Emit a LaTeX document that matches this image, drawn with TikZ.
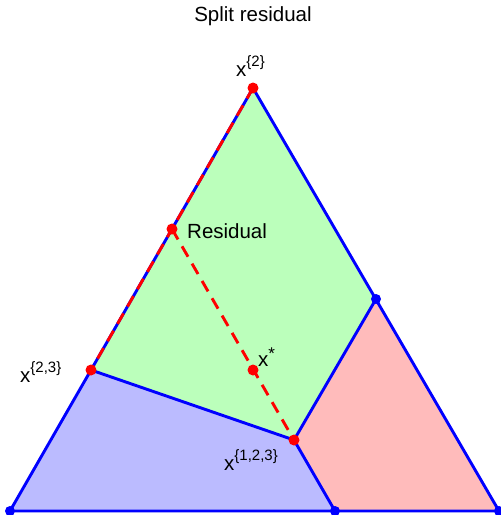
\documentclass[tikz,border=0pt]{standalone}
\usepackage{fontspec}
\setmainfont{Liberation Sans}
\definecolor{rgreen}{RGB}{187,255,187}
\definecolor{rblue}{RGB}{187,187,255}
\definecolor{rred}{RGB}{255,187,187}
\definecolor{lblue}{RGB}{0,0,255}
\definecolor{lred}{RGB}{255,0,0}
\newcommand{\sx}[1]{x\raisebox{0.45em}{\fontsize{15}{17}\selectfont\{#1\}}}
\begin{document}
\begin{tikzpicture}[x=1pt,y=-1pt,
  edge/.style={draw=lblue,line width=2.9pt,line join=round},
  resline/.style={draw=lred,line width=2.9pt,dash pattern=on 12pt off 8pt},
  bdot/.style={circle,fill=lblue,inner sep=0pt,minimum size=10pt},
  rdot/.style={circle,fill=lred,inner sep=0pt,minimum size=11pt},
  lbl/.style={font=\fontsize{20.5}{23}\selectfont,inner sep=0pt}]
\useasboundingbox (0,0) rectangle (501,515);
\coordinate (A) at (10,511);
\coordinate (B) at (499,511);
\coordinate (C) at (253,88);
\coordinate (M23) at (91,370);
\coordinate (M123) at (294,440);
\coordinate (MR) at (376,299);
\coordinate (MB) at (335,511);
\coordinate (Res) at (172,229);
\coordinate (Xs) at (253,370);
% regions
\fill[rgreen] (C) -- (MR) -- (M123) -- (M23) -- cycle;
\fill[rblue] (A) -- (M23) -- (M123) -- (MB) -- cycle;
\fill[rred] (M123) -- (MR) -- (B) -- (MB) -- cycle;
% edges
\draw[edge] (A) -- (B) -- (C) -- cycle;
\draw[edge] (M23) -- (M123) -- (MR);
\draw[edge] (M123) -- (MB);
% residual lines
\draw[resline] (C) -- (M23);
\draw[resline] (Res) -- (M123);
% dots
\node[bdot] (dA) at (A) {};
\node[bdot] (dB) at (B) {};
\node[bdot] (dMR) at (MR) {};
\node[bdot] (dMB) at (MB) {};
\node[rdot] (dC) at (C) {};
\node[rdot] (dM23) at (M23) {};
\node[rdot] (dM123) at (M123) {};
\node[rdot] (dRes) at (Res) {};
\node[rdot] (dXs) at (Xs) {};
% labels
\node[lbl] (title) at (253,16) {Split residual};
\node[lbl,anchor=base west] (l2) at (236,76) {\sx{2}};
\node[lbl,anchor=base west] (l23) at (20,382) {\sx{2,3}};
\node[lbl,anchor=base west] (l123) at (224,470) {\sx{1,2,3}};
\node[lbl,anchor=base west] (lxs) at (258,366) {x\raisebox{0.3em}{\fontsize{17}{19}\selectfont *}};
\node[lbl,anchor=base west] (lres) at (187,238) {Residual};
\end{tikzpicture}
\end{document}
